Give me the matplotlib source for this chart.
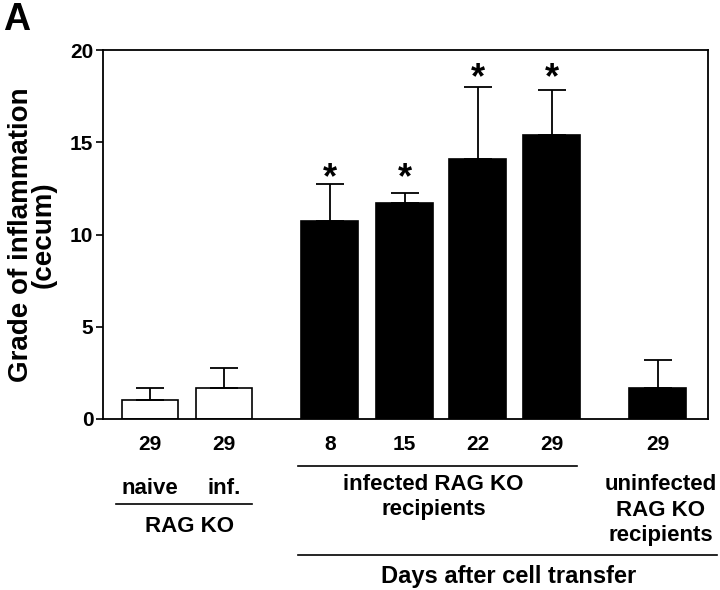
import matplotlib
matplotlib.use("Agg")
import matplotlib.pyplot as plt
import matplotlib.transforms as mtransforms
from matplotlib.lines import Line2D

plt.rcParams['font.family'] = ['Liberation Sans', 'DejaVu Sans']
plt.rcParams['font.weight'] = 'bold'

# data
day_labels = ['29', '29', '8', '15', '22', '29', '29']
means = [1.03, 1.68, 10.73, 11.7, 14.09, 15.39, 1.68]
errs_up = [0.65, 1.08, 2.0, 0.55, 3.9, 2.44, 1.52]
bar_colors = ['white', 'white', 'black', 'black', 'black', 'black', 'black']
significant = [False, False, True, True, True, True, False]
star_heights = [None, None, 13.05, 13.05, 18.45, 18.45, None]

# layout
positions = [0, 1, 2.43, 3.44, 4.43, 5.43, 6.86]
width = 0.77

W, H = 720, 590
fig = plt.figure(figsize=(W / 100, H / 100), dpi=100)
ax = fig.add_axes([103 / W, 1 - 419 / H, (708 - 103) / W, (419 - 50) / H])

ax.bar(positions, means, width, color=bar_colors, edgecolor='black', linewidth=1.2,
       yerr=[[0] * len(means), errs_up], capsize=10,
       error_kw=dict(elinewidth=1.3, capthick=1.3, ecolor='black'), zorder=2)

for p, sig, sh in zip(positions, significant, star_heights):
    if sig:
        ax.text(p, sh, '*', ha='center', va='center', fontsize=26, fontweight='bold')

ax.set_xlim(-0.635, 7.54)
ax.set_ylim(0, 20)
ax.set_yticks([0, 5, 10, 15, 20])
ax.set_xticks(positions)
ax.set_xticklabels(day_labels)
ax.tick_params(axis='x', length=0, pad=11.5, labelsize=15)
ax.tick_params(axis='y', length=5, width=1.2, pad=2, labelsize=15, direction='out')
for s in ax.spines.values():
    s.set_linewidth(1.3)

# x in data, y in figure pixels from top
tr = mtransforms.blended_transform_factory(ax.transData, fig.transFigure)


def fy(p):
    return 1 - p / H


def hline(x0, x1, ypix):
    fig.add_artist(Line2D([x0, x1], [fy(ypix), fy(ypix)], transform=tr, color='black', lw=1.2))


def label(x, ypix, s, size=16):
    fig.text(x, fy(ypix), s, transform=tr, ha='center', va='center', fontsize=size,
             fontweight='bold', linespacing=1.0)


label(positions[0], 489, 'naive')
label(positions[1], 489, 'inf.')
hline(positions[0] - width / 2 - 0.07, positions[1] + width / 2, 504)
label((positions[0] + positions[1]) / 2 + 0.03, 527, 'RAG KO')

hline(positions[2] - width / 2 - 0.04, positions[5] + width / 2 - 0.04, 466)
label(3.83, 485, 'infected RAG KO')
label(3.83, 510, 'recipients')

label(positions[6] + 0.04, 485, 'uninfected')
label(positions[6] + 0.04, 510, 'RAG KO')
label(positions[6] + 0.04, 536, 'recipients')

hline(positions[2] - width / 2 - 0.04, 7.66, 555)
label((positions[2] - width / 2 + 7.66) / 2, 576, 'Days after cell transfer', size=17)

# y axis label, two tight lines
fig.text(32.5 / W, fy(235), 'Grade of inflammation\n(cecum)', rotation=90,
         ha='center', va='center', multialignment='center', linespacing=0.86,
         fontsize=20, fontweight='bold')

fig.text(3 / W, fy(30), 'A', ha='left', va='baseline', fontsize=27, fontweight='bold')

fig.savefig('out.png', dpi=100)
